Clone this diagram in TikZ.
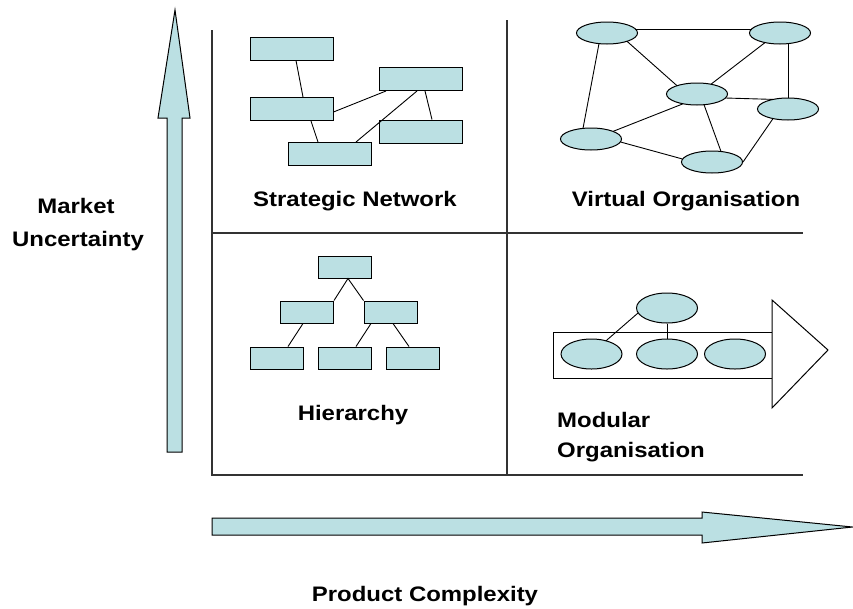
\documentclass[tikz,border=0pt]{standalone}
\usepackage{fontspec}
\setmainfont[FakeStretch=1.14]{Liberation Sans}
\usetikzlibrary{shapes.geometric,calc}
\definecolor{boxfill}{RGB}{187,224,227}
\begin{document}
\begin{tikzpicture}[x=1pt,y=-1pt,
  wbox/.style={draw=black,fill=boxfill,line width=1pt,minimum width=83pt,minimum height=23pt,inner sep=0pt},
  hbox/.style={draw=black,fill=boxfill,line width=1pt,minimum width=53pt,minimum height=22pt,inner sep=0pt},
  vell/.style={ellipse,draw=black,fill=boxfill,line width=1pt,minimum width=61pt,minimum height=22pt,inner sep=0pt},
  mell/.style={ellipse,draw=black,fill=boxfill,line width=1pt,minimum width=61pt,minimum height=30pt,inner sep=0pt},
  link/.style={draw=black,line width=0.9pt},
  grid/.style={draw=black!80,line width=1.3pt},
  bigarrow/.style={draw=black,fill=boxfill,line width=1pt,line join=miter},
  lbl/.style={font=\fontsize{21}{25}\bfseries\selectfont,inner sep=0pt,anchor=base}
]
\path[use as bounding box] (0,0) rectangle (853,608);

% axes arrows
\draw[bigarrow] (167,452) -- (167,118) -- (158,118) -- (175,10) -- (190,118) -- (182,118) -- (182,452) -- cycle;
\draw[bigarrow] (212,518) -- (702,518) -- (702,512) -- (852.5,527) -- (702,543) -- (702,535) -- (212,535) -- cycle;

% quadrant lines
\draw[grid] (212,30) -- (212,475) -- (803,475);
\draw[grid] (507,20) -- (507,475);
\draw[grid] (212,233) -- (803,233);

% Strategic network
\node[wbox] (b1) at (291.5,48.5) {};
\node[wbox] (b2) at (291.5,109) {};
\node[wbox] (b3) at (420.5,79) {};
\node[wbox] (b4) at (420.5,131.5) {};
\node[wbox] (b5) at (329.5,154) {};
\draw[link] ([xshift=4.5pt]b1.south) -- ([xshift=11.5pt]b2.north);
\draw[link] ([yshift=-3pt]b2.east) -- ([xshift=-34.5pt]b3.south);
\draw[link] ([xshift=19.5pt]b2.south) -- ([xshift=-11.5pt]b5.north);
\draw[link] ([xshift=-3.5pt]b3.south) -- ([xshift=26.5pt]b5.north);
\draw[link] ([xshift=4.5pt]b3.south) -- ([xshift=11.5pt]b4.north);

% Virtual organisation
\node[vell] (e1) at (607,33) {};
\node[vell] (e2) at (780,33) {};
\node[vell] (e3) at (697,94) {};
\node[vell] (e4) at (788,109) {};
\node[vell] (e5) at (591,139) {};
\node[vell] (e6) at (712,162) {};
\draw[link] ($(e1)+(28.4,-4)$) -- ($(e2)+(-28.4,-4)$);
\draw[link] ($(e1)+(20,8.3)$) -- ($(e3)+(-20,-8.3)$);
\draw[link] ($(e1)+(-8,10.6)$) -- ($(e5)+(-8,-10.6)$);
\draw[link] ($(e2)+(-15,9.6)$) -- ($(e3)+(14,-9.8)$);
\draw[link] ($(e2)+(8,10.6)$) -- (e4.north);
\draw[link] ($(e3)+(28.4,4)$) -- ($(e4)+(-15,-9.6)$);
\draw[link] ($(e3)+(-14,9.8)$) -- ($(e5)+(22,-7.6)$);
\draw[link] ($(e3)+(7,10.7)$) -- ($(e6)+(9,-10.5)$);
\draw[link] ($(e5)+(29.5,3)$) -- ($(e6)+(-29.5,-3)$);
\draw[link] (e6.east) -- ($(e4)+(-15,9.6)$);

% Hierarchy
\node[hbox] (h1) at (344.5,267) {};
\node[hbox] (h2) at (307,312) {};
\node[hbox] (h3) at (390.5,312) {};
\node[hbox] (h4) at (276.5,358) {};
\node[hbox] (h5) at (344.5,358) {};
\node[hbox] (h6) at (413,358) {};
\draw[link] (h2.north east) -- ([xshift=3.5pt]h1.south) -- (h3.north west);
\draw[link] ([xshift=-4pt]h2.south) -- ([xshift=11.5pt]h4.north);
\draw[link] ([xshift=-19.5pt]h3.south) -- ([xshift=11.5pt]h5.north);
\draw[link] ([xshift=2.5pt]h3.south) -- ([xshift=-4pt]h6.north);

% Modular organisation
\draw[draw=black,line width=1pt,fill=white] (553,332) rectangle (772,378);
\draw[draw=black,line width=1pt,fill=white,line join=miter] (772,300) -- (828,350) -- (772,408) -- cycle;
\node[mell] (m0) at (667,308) {};
\node[mell] (ma) at (591.5,354) {};
\node[mell] (mb) at (667,354) {};
\node[mell] (mc) at (735,354) {};
\draw[link] ($(m0)+(-29,5)$) -- ($(ma)+(14.5,-13.2)$);
\draw[link] (m0.south) -- (mb.north);

% labels
\node[lbl] (tsn) at (355,206) {Strategic Network};
\node[lbl] (tvo) at (686,206) {Virtual Organisation};
\node[lbl] (thi) at (353,420) {Hierarchy};
\node[lbl,anchor=base west] (tmo1) at (557,427) {Modular};
\node[lbl,anchor=base west] (tmo2) at (557,457) {Organisation};
\node[lbl] (tmu1) at (76,213) {Market};
\node[lbl] (tmu2) at (78,246) {Uncertainty};
\node[lbl] (tpc) at (425,601) {Product Complexity};
\end{tikzpicture}
\end{document}
